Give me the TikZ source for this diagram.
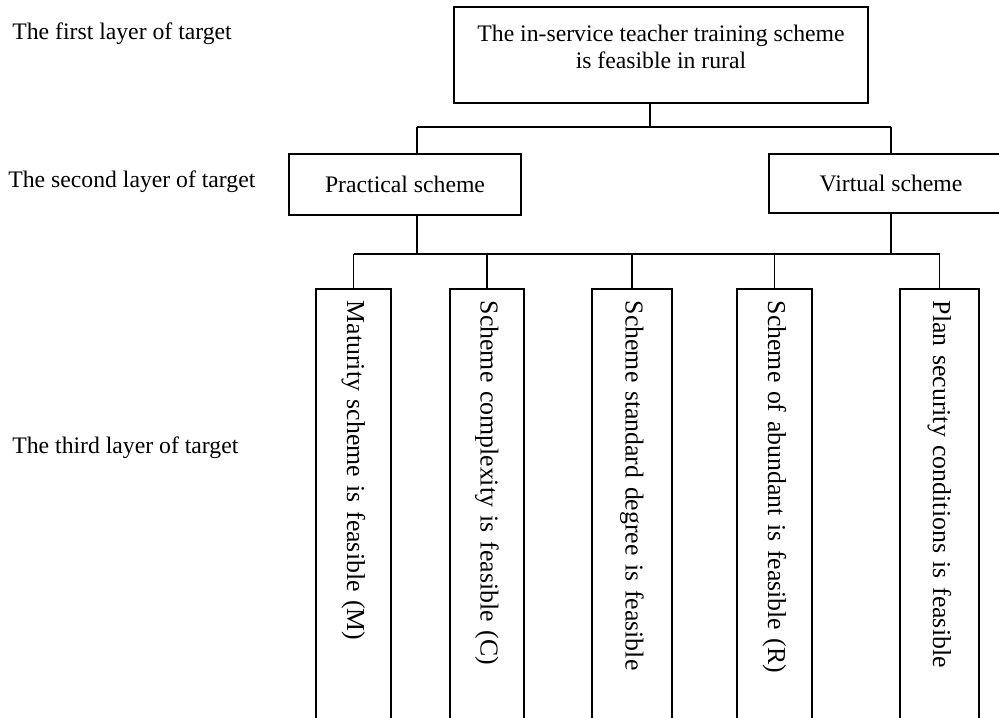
\documentclass[tikz,border=0pt]{standalone}
\usepackage{fontspec}
\setmainfont{Liberation Serif}
\usetikzlibrary{calc}
\tikzset{
	layerlabel/.style={anchor=base west, inner sep=0pt},
	goalbox/.style={draw, line width=0.8pt, align=center},
	leafbox/.style={draw, line width=0.8pt, rotate=-90, anchor=west, minimum width=226pt, minimum height=37.5pt, text width=214pt, inner xsep=6pt, align=left, font=\fontsize{12.9}{15}\selectfont},
	link/.style={line width=0.8pt}
}

\begin{document}
\begin{tikzpicture}[x=0.5pt, y=-0.5pt, font=\fontsize{11.85}{13.5}\selectfont]
	\useasboundingbox (0,0) rectangle (999,717);
	\clip (0,0) rectangle (999,717);
	% layer names on the left
	\node [layerlabel] (l1) at (12,40) {The first layer of target};
	\node [layerlabel] (l2) at (8,187) {The second layer of target};
	\node [layerlabel] (l3) at (12,453) {The third layer of target};
	% targets
	\node [goalbox, minimum width=207pt, minimum height=48pt] (root) at (661,55) {The in-service teacher training scheme\\is feasible in rural\\[-5.5pt]\mbox{}};
	\node [goalbox, minimum width=116pt, minimum height=30.5pt] (prac) at (405,184.5) {Practical scheme};
	\node [goalbox, minimum width=122pt, minimum height=29.5pt] (virt) at (891,183.5) {Virtual scheme};
	\node [leafbox] (m) at (353.5,288) {Maturity scheme is feasible (M)};
	\node [leafbox, minimum height=37pt] (c) at (487,288) {Scheme complexity is feasible (C)};
	\node [leafbox, minimum height=40pt] (s) at (632,288) {Scheme standard degree is feasible};
	\node [leafbox] (r) at (774.5,288) {Scheme of abundant is feasible (R)};
	\node [leafbox, minimum height=39.5pt] (p) at (939.5,288) {Plan security conditions is feasible};
	% connectors
	\coordinate (rootj) at (650,127);
	\coordinate (pj) at (417,127);
	\coordinate (vj) at (891,127);
	\coordinate (bar) at (0,254);
	\draw [link] (root.south -| rootj) -- (rootj);
	\draw [link] (pj) -- (vj);
	\draw [link] (pj) -- (pj |- prac.north);
	\draw [link] (vj) -- (vj |- virt.north);
	\draw [link] (prac.south -| pj) -- (pj |- bar);
	\draw [link] (virt.south -| vj) -- (vj |- bar);
	\draw [link] (m.west |- bar) -- (p.west |- bar);
	\foreach \n in {m,c,s,r,p}
		\draw [link] (\n.west |- bar) -- (\n.west);
\end{tikzpicture}
\end{document}
